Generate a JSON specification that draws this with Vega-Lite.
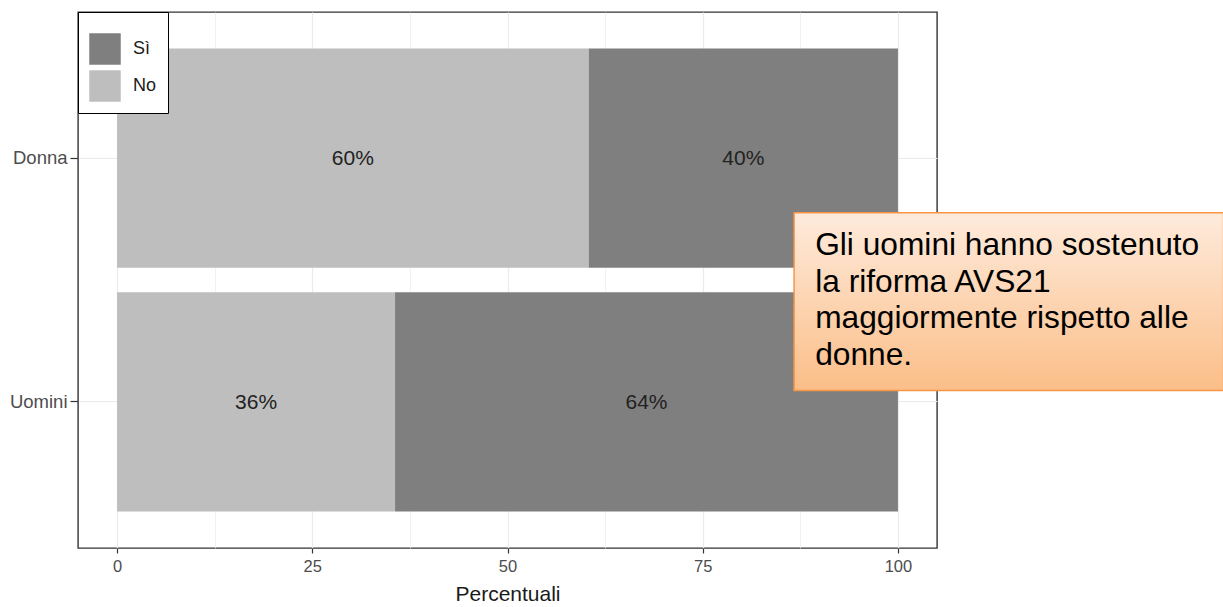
{
  "$schema": "https://vega.github.io/schema/vega-lite/v6.json",
  "width": 859,
  "height": 536,
  "autosize": {"type": "none"},
  "padding": {"left": 78, "top": 12, "right": 286, "bottom": 59},
  "config": {
    "font": "Liberation Sans",
    "view": {"stroke": "#333333", "strokeWidth": 1.4},
    "background": "white"
  },
  "layer": [
    {
      "data": {
        "values": [
          {"sesso": "Donna", "risposta": "No", "pct": 60.4, "etichetta": "60%"},
          {"sesso": "Donna", "risposta": "Sì", "pct": 39.6, "etichetta": "40%"},
          {"sesso": "Uomini", "risposta": "No", "pct": 35.6, "etichetta": "36%"},
          {"sesso": "Uomini", "risposta": "Sì", "pct": 64.4, "etichetta": "64%"}
        ]
      },
      "transform": [
        {"stack": "pct", "groupby": ["sesso"], "sort": [{"field": "risposta", "order": "ascending"}], "as": ["x0", "x1"]},
        {"calculate": "(datum.x0 + datum.x1) / 2", "as": "xmid"}
      ],
      "encoding": {
        "y": {
          "field": "sesso",
          "type": "nominal",
          "sort": ["Donna", "Uomini"],
          "scale": {"paddingInner": 0.1, "paddingOuter": 0.15},
          "axis": {
            "title": null,
            "domain": false,
            "bandPosition": 0.5,
            "grid": true,
            "gridColor": "#EBEBEB",
            "gridWidth": 1.2,
            "tickSize": 8,
            "tickColor": "#333333",
            "tickWidth": 1.2,
            "labelFontSize": 18.5,
            "labelColor": "#4D4D4D",
            "labelPadding": 3
          }
        }
      },
      "layer": [
        {
          "mark": {"type": "bar"},
          "encoding": {
            "x": {
              "field": "x0",
              "type": "quantitative",
              "scale": {"domain": [-5, 105], "nice": false, "zero": false},
              "axis": {
                "title": "Percentuali",
                "values": [0, 12.5, 25, 37.5, 50, 62.5, 75, 87.5, 100],
                "labelExpr": "datum.value % 25 === 0 ? datum.label : ''",
                "domain": false,
                "grid": true,
                "gridColor": "#EBEBEB",
                "gridWidth": {"condition": {"test": "datum.value % 25 !== 0", "value": 0.7}, "value": 1.2},
                "tickSize": 5,
                "tickColor": "#333333",
                "tickWidth": 1.2,
                "tickOpacity": {"condition": {"test": "datum.value % 25 !== 0", "value": 0}, "value": 1},
                "labelFontSize": 16.5,
                "labelColor": "#4D4D4D",
                "labelPadding": 5,
                "labelOverlap": false,
                "titleFontSize": 21,
                "titleFontWeight": "normal",
                "titleColor": "#1A1A1A",
                "titlePadding": 9
              }
            },
            "x2": {"field": "x1"},
            "color": {
              "field": "risposta",
              "type": "nominal",
              "scale": {"domain": ["Sì", "No"], "range": ["#7F7F7F", "#BEBEBE"]},
              "legend": {
                "orient": "top-left",
                "offset": 0,
                "padding": 11,
                "strokeColor": "#000000",
                "fillColor": "white",
                "title": "\u2003",
                "titleFontSize": 6,
                "titlePadding": 4,
                "symbolType": "square",
                "symbolSize": 992,
                "symbolStrokeWidth": 0,
                "symbolOpacity": 1,
                "rowPadding": 5,
                "labelFontSize": 18,
                "labelOffset": 12,
                "labelColor": "#1A1A1A"
              }
            }
          }
        },
        {
          "mark": {"type": "text", "fontSize": 21, "color": "#222222", "baseline": "middle", "align": "center", "dy": 1},
          "encoding": {
            "x": {"field": "xmid", "type": "quantitative"},
            "text": {"field": "etichetta"}
          }
        }
      ]
    },
    {
      "data": {
        "values": [
          {"nota": ["Gli uomini hanno sostenuto", "la riforma AVS21", "maggiormente rispetto alle", "donne."]}
        ]
      },
      "encoding": {
        "y": {"datum": 1.776, "type": "quantitative", "scale": {"domain": [0.4, 2.6], "nice": false, "zero": false}, "axis": null}
      },
      "layer": [
        {
          "mark": {"type": "rect", "fill": "#7a7a7a", "opacity": 0.45, "xOffset": 3, "yOffset": 3},
          "encoding": {
            "x": {"datum": 86.7},
            "x2": {"datum": 141.7},
            "y2": {"datum": 1.046}
          }
        },
        {
          "mark": {
            "type": "rect",
            "fill": {"gradient": "linear", "x1": 0, "y1": 0, "x2": 0, "y2": 1, "stops": [{"offset": 0, "color": "#FEEBDC"}, {"offset": 1, "color": "#FBBE88"}]},
            "stroke": "#F79646",
            "strokeWidth": 1.5
          },
          "encoding": {
            "x": {"datum": 86.7},
            "x2": {"datum": 141.7},
            "y2": {"datum": 1.046}
          }
        },
        {
          "mark": {"type": "text", "fontSize": 31.7, "align": "left", "baseline": "alphabetic", "lineHeight": 36.7, "color": "#000000", "font": "Liberation Sans"},
          "encoding": {
            "x": {"datum": 89.4},
            "y": {"datum": 1.603, "type": "quantitative", "axis": null},
            "text": {"field": "nota"}
          }
        }
      ]
    }
  ],
  "resolve": {"scale": {"y": "independent"}, "axis": {"y": "independent"}}
}
